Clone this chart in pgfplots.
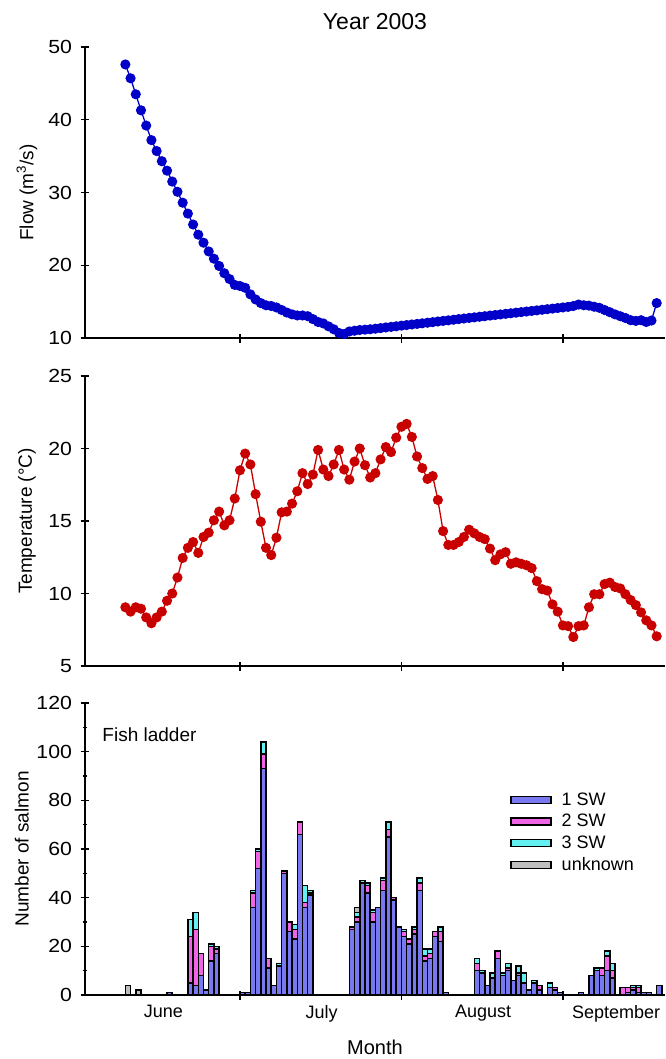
\documentclass[border=0pt]{standalone}
\usepackage{fontspec}
\setmainfont{Liberation Sans}
\newfontfamily\tickfont[FakeStretch=1.12]{Liberation Sans}
\usepackage{pgfplots}
\usepackage{pgfplotstable}
\pgfplotsset{compat=1.18}
\definecolor{flowc}{RGB}{0,0,200}
\definecolor{tempc}{RGB}{200,0,0}
\definecolor{swone}{RGB}{120,120,240}
\definecolor{swtwo}{RGB}{240,100,230}
\definecolor{swthree}{RGB}{100,240,240}
\definecolor{unk}{RGB}{190,190,190}

\pgfplotstableread{
d flow temp
8 47.6 9.05
9 45.7 8.75
10 43.5 9.05
11 41.3 8.95
12 39.2 8.35
13 37.2 7.95
14 35.7 8.35
15 34.3 8.75
16 33.0 9.5
17 31.5 10.0
18 30.1 11.1
19 28.6 12.45
20 27.1 13.15
21 25.6 13.55
22 24.2 12.8
23 23.1 13.9
24 21.9 14.2
25 20.9 15.05
26 19.9 15.65
27 18.9 14.7
28 18.1 15.05
29 17.3 16.55
30 17.15 18.5
31 16.9 19.65
32 16.0 18.9
33 15.3 16.85
34 14.8 14.95
35 14.5 13.15
36 14.4 12.65
37 14.2 13.85
38 13.85 15.6
39 13.5 15.65
40 13.25 16.2
41 13.1 17.05
42 13.1 18.3
43 13.0 17.55
44 12.6 18.2
45 12.2 19.9
46 12.0 18.55
47 11.6 18.1
48 11.2 18.9
49 10.7 19.9
50 10.55 18.55
51 10.9 17.85
52 11.0 19.1
53 11.1 20.0
54 11.15 18.85
55 11.2 18.0
56 11.28 18.3
57 11.36 19.25
58 11.45 20.1
59 11.53 19.75
60 11.61 20.75
61 11.7 21.5
62 11.78 21.7
63 11.86 20.8
64 11.94 19.45
65 12.02 18.65
66 12.1 17.9
67 12.18 18.1
68 12.27 16.45
69 12.35 14.3
70 12.43 13.35
71 12.51 13.35
72 12.6 13.55
73 12.68 13.9
74 12.76 14.4
75 12.84 14.15
76 12.92 13.9
77 13.0 13.75
78 13.08 13.1
79 13.16 12.3
80 13.24 12.7
81 13.32 12.85
82 13.4 12.05
83 13.48 12.15
84 13.56 12.05
85 13.64 11.95
86 13.72 11.75
87 13.8 10.85
88 13.88 10.3
89 13.96 10.2
90 14.04 9.25
91 14.12 8.75
92 14.2 7.8
93 14.28 7.75
94 14.4 7.0
95 14.6 7.75
96 14.5 7.8
97 14.45 9.05
98 14.3 9.95
99 14.15 9.95
100 13.85 10.65
101 13.55 10.75
102 13.25 10.45
103 13.0 10.35
104 12.75 9.95
105 12.45 9.55
106 12.35 9.2
107 12.45 8.7
108 12.2 8.15
109 12.4 7.8
110 14.8 7.05
}\envtable

\pgfplotstableread{
d s1 s2 s3 un
8 0 0 0 4
10 0 0 0 2
16 1 0 0 0
20 5 19 7 0
21 4 23 7 0
22 8 9 0 0
23 2 0 0 0
24 14 6 1 0
25 17 2 1 0
30 1 0 0 0
31 1 0 0 0
32 36 6 1 0
33 52 7 1 0
34 93 6 5 0
35 11 4 0 0
36 4 0 0 0
37 12 0 1 0
38 50 1 0 0
39 26 4 0 0
40 23 4 2 0
41 66 5 0 0
42 36 2 7 0
43 41 1 1 0
51 27 1 0 0
52 30 2 2 2
53 46 0 1 0
54 42 3 1 0
55 30 4 1 0
56 36 0 0 0
57 43 4 1 0
58 65 3 3 0
59 39 1 0 0
60 28 0 0 0
61 24 2 1 0
62 21 2 0 0
63 25 2 1 0
64 43 3 2 0
65 14 2 3 0
66 15 2 2 0
67 24 2 0 0
68 22 4 2 0
69 1 0 0 0
75 10 3 2 0
76 9 0 1 0
77 4 0 0 0
78 7 0 2 0
79 15 3 0 0
80 8 0 1 0
81 10 1 2 0
82 6 0 0 0
83 8 1 3 0
84 5 0 4 0
85 2 0 0 0
86 5 0 1 0
87 2 2 0 0
89 3 0 2 0
90 2 1 0 0
91 1 0 0 0
95 1 0 0 0
97 8 0 0 0
98 10 0 1 0
99 8 3 0 0
100 10 6 2 0
101 7 3 3 0
103 0 3 0 0
104 1 2 0 0
105 2 1 1 0
106 1 2 1 0
107 1 0 0 0
108 1 0 0 0
110 4 0 0 0
}\fishtable

\pgfplotsset{
  panel/.style={
    scale only axis, width=580bp,
    xmin=0.25, xmax=111.6,
    axis x line=bottom, axis y line=left,
    axis line style={line width=1.3bp, -},
    every tick/.style={black, line width=1.3bp},
    tick align=center, major tick length=9bp, minor tick length=5bp,
    xtick={30,61,92}, xticklabels={},
    /pgf/number format/assume math mode=true,
    tick label style={font=\fontsize{19bp}{21bp}\selectfont},
    yticklabel style={font=\tickfont\fontsize{19bp}{21bp}\selectfont, xshift=-5bp},
    ylabel style={font=\fontsize{19bp}{21bp}\selectfont, at={(axis description cs:-0.1,0.5)}, anchor=center},
    clip=false,
  }
}

\begin{document}
\begin{tikzpicture}
% top: flow
\begin{axis}[panel, at={(85bp,-338bp)}, anchor=south west, height=291bp,
  ymin=10, ymax=50, ytick={10,20,30,40,50},
  ylabel={Flow (m\textsuperscript{3}/s)}]
\addplot[flowc, line width=1.3bp, mark=*, mark size=4.4bp, mark options={fill=flowc, draw=flowc}] table[x=d, y=flow] {\envtable};
\end{axis}
% middle: temperature
\begin{axis}[panel, at={(85bp,-666bp)}, anchor=south west, height=290bp,
  ymin=5, ymax=25, ytick={5,10,15,20,25},
  ylabel={Temperature (°C)}]
\addplot[tempc, line width=1.3bp, mark=*, mark size=4.4bp, mark options={fill=tempc, draw=tempc}] table[x=d, y=temp] {\envtable};
\end{axis}
% bottom: fish
\begin{axis}[panel, at={(85bp,-995bp)}, anchor=south west, height=292bp,
  ymin=0, ymax=120, ytick={0,20,40,60,80,100,120}, minor y tick num=1,
  ylabel={Number of salmon},
  ylabel style={at={(axis description cs:-0.109,0.5)}},
  ybar stacked, bar width=1,
  extra x ticks={15.3,45.7,76.7,102.2},
  extra x tick labels={June,July,August,September},
  extra x tick style={major tick length=0pt, tick label style={font=\fontsize{18bp}{20bp}\selectfont, yshift=-7bp}},
  xlabel={Month},
  xlabel style={font=\fontsize{20bp}{22bp}\selectfont, yshift=-6bp},
  legend cell align=left,
  legend image code/.code={\draw[#1, line width=1.4bp] (0bp,-3.5bp) rectangle (40bp,3.5bp);},
  legend style={at={(axis description cs:0.733,0.70)}, anchor=north west, draw=none, fill=none,
    font=\fontsize{18bp}{20bp}\selectfont, inner sep=0pt, row sep=3.5bp, column sep=8bp,
    nodes={inner sep=2bp}},
  ]
\addplot[fill=swone, draw=black, line width=1.5bp] table[x expr=\thisrow{d}+0.5, y=s1] {\fishtable};
\addplot[fill=swtwo, draw=black, line width=1.5bp] table[x expr=\thisrow{d}+0.5, y=s2] {\fishtable};
\addplot[fill=swthree, draw=black, line width=1.5bp] table[x expr=\thisrow{d}+0.5, y=s3] {\fishtable};
\addplot[fill=unk, draw=black, line width=1.5bp] table[x expr=\thisrow{d}+0.5, y=un] {\fishtable};
\legend{1 SW, 2 SW, 3 SW, unknown}
\node[anchor=west, font=\fontsize{19bp}{21bp}\selectfont] at (axis description cs:0.024,0.89) {Fish ladder};
\end{axis}
\node[font=\fontsize{23bp}{25bp}\selectfont] at (375bp,-22bp) {Year 2003};
\pgfresetboundingbox
\useasboundingbox (0,0) rectangle (666bp,-1059bp);
\end{tikzpicture}
\end{document}
